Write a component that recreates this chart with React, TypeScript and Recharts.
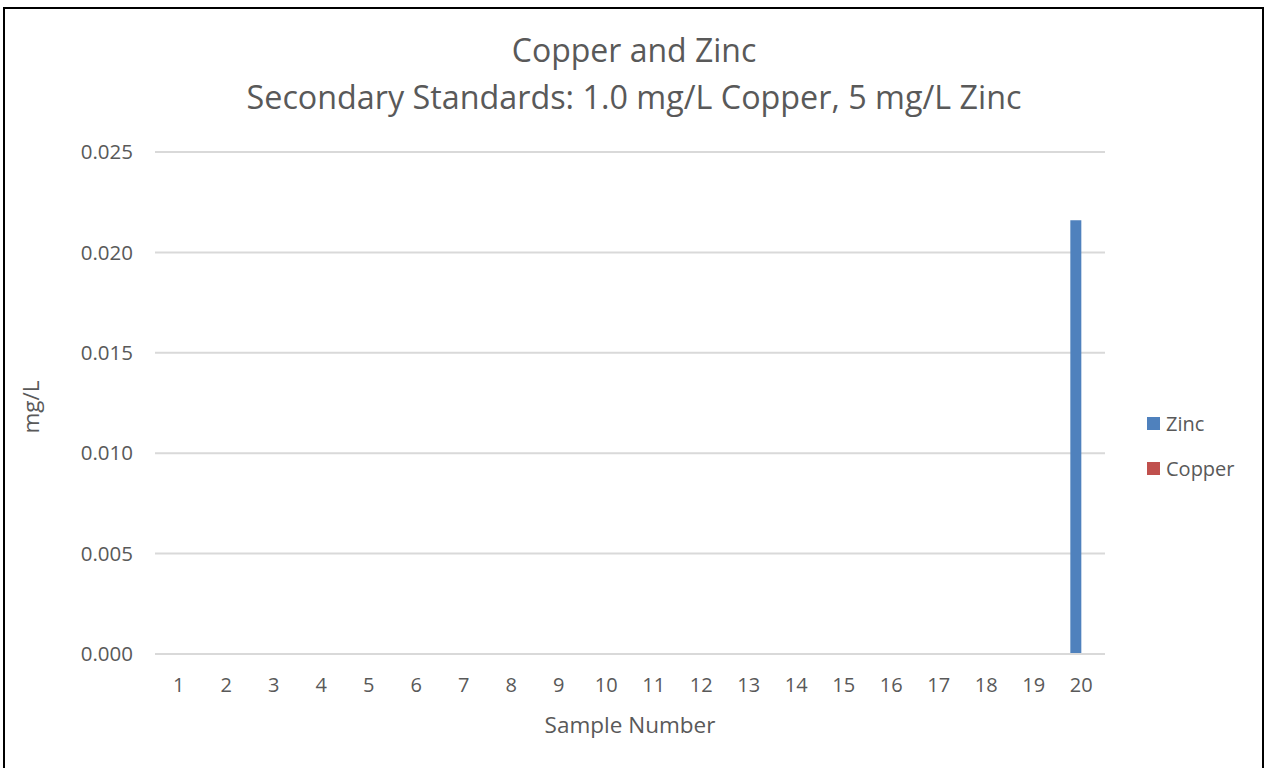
import { BarChart, Bar, XAxis, YAxis, CartesianGrid } from 'recharts'

const samples = ['1', '2', '3', '4', '5', '6', '7', '8', '9', '10', '11', '12', '13', '14', '15', '16', '17', '18', '19', '20']
const zinc = [0, 0, 0, 0, 0, 0, 0, 0, 0, 0, 0, 0, 0, 0, 0, 0, 0, 0, 0, 0.0216]
const copper = [0, 0, 0, 0, 0, 0, 0, 0, 0, 0, 0, 0, 0, 0, 0, 0, 0, 0, 0, 0]
const yTicks = [0, 0.005, 0.01, 0.015, 0.02, 0.025]

const series = [
  { key: 'zinc', name: 'Zinc', color: '#4F81BD' },
  { key: 'copper', name: 'Copper', color: '#C0504D' },
]

const data = samples.map((s, i) => ({ sample: s, zinc: zinc[i], copper: copper[i] }))

const font = '"Open Sans", "Noto Sans", sans-serif'
const textColor = '#595959'

export default function App() {
  return (
    <div style={{ position: 'absolute', left: 0, top: 0, width: 1265, height: 768, overflow: 'hidden', background: '#fff', fontFamily: font }}>
      <div style={{ position: 'absolute', left: 3, top: 7, width: 1257, height: 770, border: '2px solid #000' }}>
        <div style={{ position: 'absolute', left: 0, top: 0, width: 1257, height: 761 }}>
          <BarChart
            width={1257}
            height={761}
            data={data}
            margin={{ top: 143, right: 157, bottom: 86, left: 0 }}
            barCategoryGap="27%"
            barGap={0}
          >
            <CartesianGrid vertical={false} stroke="#d9d9d9" strokeWidth={2} />
            <XAxis
              dataKey="sample"
              height={30}
              tickLine={false}
              tickSize={0}
              tickMargin={24}
              axisLine={{ stroke: '#d9d9d9', strokeWidth: 2 }}
              tick={{ fill: textColor, fontSize: 20, fontFamily: font }}
              interval={0}
            />
            <YAxis
              width={150}
              domain={[0, 0.025]}
              ticks={yTicks}
              tickFormatter={(v: number) => v.toFixed(3)}
              axisLine={false}
              tickLine={false}
              tickSize={0}
              tickMargin={22}
              tick={{ fill: textColor, fontSize: 20.5, fontFamily: font }}
            />
            {series.map((s) => (
              <Bar key={s.key} dataKey={s.key} name={s.name} fill={s.color} isAnimationActive={false} />
            ))}
          </BarChart>
        </div>
      </div>

      {/* titles and axis labels */}
      <div style={{ position: 'absolute', left: 0, width: 1265, top: 26, textAlign: 'center', color: textColor, fontSize: 32, lineHeight: '47px' }}>
        <div style={{ marginLeft: 3 }}>Copper and Zinc</div>
        <div style={{ marginLeft: 3, fontSize: 32.3 }}>Secondary Standards: 1.0 mg/L Copper, 5 mg/L Zinc</div>
      </div>
      <div style={{ position: 'absolute', left: 430, width: 400, top: 710, lineHeight: '30px', textAlign: 'center', color: textColor, fontSize: 22.5 }}>
        Sample Number
      </div>
      <div style={{ position: 'absolute', left: 30, top: 407, transform: 'translate(-50%, -50%) rotate(-90deg)', color: textColor, fontSize: 22.5, whiteSpace: 'nowrap' }}>
        mg/L
      </div>

      {/* legend */}
      {series.map((s, i) => (
        <div key={s.key} style={{ position: 'absolute', left: 1147, top: 409 + i * 45, height: 28, display: 'flex', alignItems: 'center', color: textColor, fontSize: 20 }}>
          <span style={{ display: 'inline-block', width: 13, height: 13, background: s.color, marginRight: 6 }} />
          <span>{s.name}</span>
        </div>
      ))}
    </div>
  )
}
